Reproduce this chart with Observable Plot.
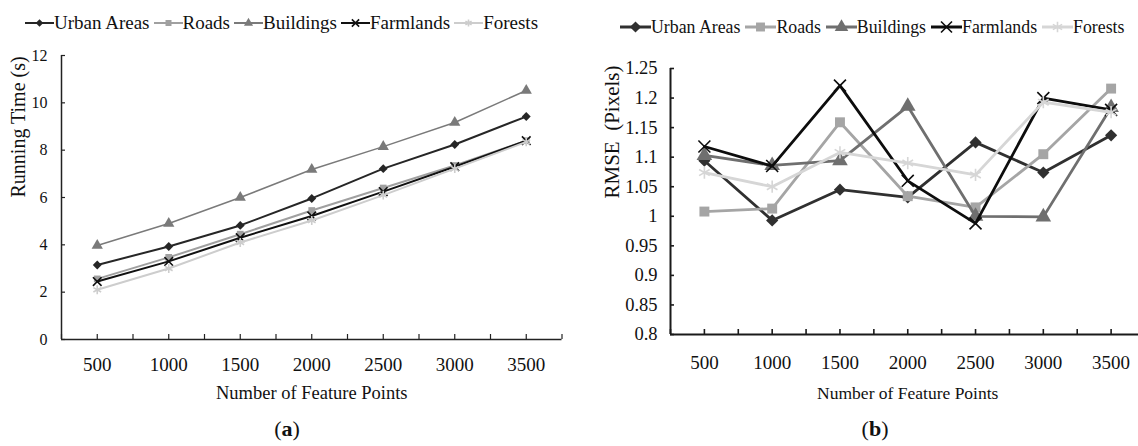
<!DOCTYPE html>
<html><head><meta charset="utf-8">
<script src="https://cdn.jsdelivr.net/npm/d3@7"></script>
<script src="https://cdn.jsdelivr.net/npm/@observablehq/plot@0.6"></script>
<style>
html,body{margin:0;padding:0;background:#fff;overflow:hidden}
#wrap{position:relative;width:1138px;height:446px;overflow:hidden;font-family:"Liberation Serif","Times New Roman",serif;color:#111}
.panel{position:absolute}
.legend{position:absolute;display:flex;align-items:center;white-space:nowrap;height:24px}
.legend .item{display:flex;align-items:center}
.legend svg{display:block}
.cap{position:absolute;font-size:22px;transform:translate(-50%,-50%);white-space:nowrap}
</style></head><body><div id="wrap"></div>
<script>
// ---------- data ----------
const categories = [500, 1000, 1500, 2000, 2500, 3000, 3500];
const seriesNames = ["Urban Areas", "Roads", "Buildings", "Farmlands", "Forests"];

// (a) Running time (s)
const timeUrban     = [3.15, 3.93, 4.82, 5.96, 7.22, 8.24, 9.42];
const timeRoads     = [2.56, 3.47, 4.45, 5.45, 6.40, 7.35, 8.40];
const timeBuildings = [3.97, 4.90, 6.00, 7.18, 8.15, 9.17, 10.52];
const timeFarmlands = [2.45, 3.30, 4.30, 5.22, 6.25, 7.30, 8.40];
const timeForests   = [2.10, 3.00, 4.10, 5.03, 6.10, 7.22, 8.35];

// (b) RMSE (pixels)
const rmseUrban     = [1.094, 0.993, 1.045, 1.032, 1.125, 1.074, 1.137];
const rmseRoads     = [1.008, 1.013, 1.159, 1.034, 1.015, 1.105, 1.216];
const rmseBuildings = [1.103, 1.086, 1.094, 1.186, 1.000, 0.999, 1.184];
const rmseFarmlands = [1.118, 1.085, 1.221, 1.060, 0.988, 1.200, 1.180];
const rmseForests   = [1.074, 1.050, 1.108, 1.090, 1.070, 1.193, 1.176];

// ticks
const xTickMarks = [250, 500, 750, 1000, 1250, 1500, 1750, 2000, 2250, 2500, 2750, 3000, 3250, 3500, 3750];
const timeTicks = [0, 2, 4, 6, 8, 10, 12];
const rmseTicks = [0.8, 0.85, 0.9, 0.95, 1, 1.05, 1.1, 1.15, 1.2, 1.25];
const rmseTickLabels = ["0.8", "0.85", "0.9", "0.95", "1", "1.05", "1.1", "1.15", "1.2", "1.25"];

// ---------- styles ----------
const symbols = ["diamond2", "square", "triangle", "times", "asterisk"];
const d3symbols = [d3.symbolDiamond2, d3.symbolSquare, d3.symbolTriangle, d3.symbolTimes, d3.symbolAsterisk];
const filled = [true, true, true, false, false];
const colorsA = ["#262626", "#a0a0a0", "#7a7a7a", "#111111", "#cdcdcd"];
const colorsB = ["#303030", "#a5a5a5", "#6f6f6f", "#0d0d0d", "#d6d6d6"];
const FONT = '"Liberation Serif","Times New Roman",serif';

function tidy(arrays) {
  const rows = [];
  arrays.forEach((vals, i) => vals.forEach((v, j) => rows.push({series: seriesNames[i], x: categories[j], y: v})));
  return rows;
}
const dataA = tidy([timeUrban, timeRoads, timeBuildings, timeFarmlands, timeForests]);
const dataB = tidy([rmseUrban, rmseRoads, rmseBuildings, rmseFarmlands, rmseForests]);

function seriesMarks(data, colors, lw, r) {
  const marks = [];
  seriesNames.forEach((name, i) => {
    const d = data.filter(e => e.series === name);
    marks.push(Plot.line(d, {x: "x", y: "y", stroke: colors[i], strokeWidth: lw[i]}));
    marks.push(Plot.dot(d, filled[i]
      ? {x: "x", y: "y", symbol: () => symbols[i], r: r[i], fill: colors[i], stroke: "none"}
      : {x: "x", y: "y", symbol: () => symbols[i], r: r[i], stroke: colors[i], strokeWidth: 1.6, fill: "none"}));
  });
  return marks;
}

const wrap = document.getElementById("wrap");

function legend(left, top, colors, o) {
  const div = document.createElement("div");
  div.className = "legend";
  div.style.left = left + "px";
  div.style.top = top + "px";
  div.style.fontSize = o.fontSize + "px";
  div.style.gap = o.gap + "px";
  seriesNames.forEach((n, i) => {
    const item = document.createElement("div");
    item.className = "item";
    const svg = d3.create("svg").attr("width", o.sw).attr("height", 20);
    svg.append("line").attr("x1", 0).attr("x2", o.sw).attr("y1", 10).attr("y2", 10)
      .attr("stroke", colors[i]).attr("stroke-width", o.lw);
    svg.append("path").attr("transform", `translate(${o.sw / 2},10)`)
      .attr("d", d3.symbol(d3symbols[i], o.size)())
      .attr("fill", filled[i] ? colors[i] : "none")
      .attr("stroke", filled[i] ? "none" : colors[i])
      .attr("stroke-width", 1.6);
    item.append(svg.node());
    const span = document.createElement("span");
    span.textContent = n;
    item.append(span);
    div.append(item);
  });
  wrap.append(div);
}

// ---------- chart (a) ----------
const chartA = Plot.plot({
  width: 569, height: 380,
  marginTop: 15, marginBottom: 81, marginLeft: 61, marginRight: 7.5,
  style: {fontFamily: FONT, fontSize: "16px", color: "#111", background: "transparent", overflow: "visible"},
  x: {domain: [250, 3750]},
  y: {domain: [0, 12]},
  marks: [
    Plot.ruleY([0], {stroke: "#222", strokeWidth: 1.5}),
    Plot.ruleX([250], {stroke: "#222", strokeWidth: 1.5}),
    Plot.axisX(xTickMarks, {tickSize: -5, tickFormat: () => "", label: null, stroke: "#222", strokeWidth: 1.2}),
    Plot.axisX(categories, {tickSize: 0, tickPadding: 18, fontSize: 19, label: null, tickFormat: d => String(d)}),
    Plot.axisY(timeTicks, {tickSize: -4, tickFormat: () => "", label: null, stroke: "#222", strokeWidth: 1.2}),
    Plot.axisY(timeTicks, {tickSize: 0, tickPadding: 14, fontSize: 16, label: null, tickFormat: d => String(d)}),
    Plot.text(["Number of Feature Points"], {frameAnchor: "bottom", lineAnchor: "middle", dy: 54, fontSize: 18.5, fill: "#111"}),
    Plot.text(["Running Time (s)"], {frameAnchor: "left", lineAnchor: "middle", rotate: -90, dx: -43, fontSize: 20, fill: "#111"}),
    ...seriesMarks(dataA, colorsA, [2, 2, 1.5, 2, 2], [4, 3.8, 4.2, 4, 4.2])
  ]
});
chartA.classList.add("panel");
chartA.style.left = "0px";
chartA.style.top = "40px";
wrap.append(chartA);

// ---------- chart (b) ----------
const chartB = Plot.plot({
  width: 580, height: 380,
  marginTop: 23, marginBottom: 91, marginLeft: 101, marginRight: 4.5,
  style: {fontFamily: FONT, fontSize: "18px", color: "#111", background: "transparent", overflow: "visible"},
  x: {domain: [250, 3750]},
  y: {domain: [0.8, 1.25]},
  marks: [
    Plot.ruleY([0.8], {stroke: "#1a1a1a", strokeWidth: 2}),
    Plot.ruleX([250], {stroke: "#1a1a1a", strokeWidth: 2}),
    Plot.axisX(xTickMarks, {tickSize: -5, tickFormat: () => "", label: null, stroke: "#1a1a1a", strokeWidth: 1.6}),
    Plot.axisX(categories, {tickSize: 0, tickPadding: 21, fontSize: 19, label: null, tickFormat: d => String(d)}),
    Plot.axisY(rmseTicks, {tickSize: -4, tickFormat: () => "", label: null, stroke: "#1a1a1a", strokeWidth: 1.6}),
    Plot.axisY(rmseTicks, {tickSize: 0, tickPadding: 13, fontSize: 18.5, label: null, tickFormat: (d, i) => rmseTickLabels[i]}),
    Plot.text(["Number of Feature Points"], {frameAnchor: "bottom", lineAnchor: "middle", dy: 59, fontSize: 17.5, fill: "#111"}),
    Plot.text(["RMSE  (Pixels)"], {frameAnchor: "left", lineAnchor: "middle", rotate: -90, dx: -58, dy: -3, fontSize: 21, fill: "#111"}),
    ...seriesMarks(dataB, colorsB, [2.8, 2.8, 2.8, 2.8, 2.8], [5.5, 5.6, 5.8, 5.5, 5.8])
  ]
});
chartB.classList.add("panel");
chartB.style.left = "569px";
chartB.style.top = "45px";
wrap.append(chartB);

// ---------- legends ----------
legend(25, 11, colorsA, {fontSize: 19, gap: 4, sw: 29, lw: 2, size: 36});
legend(620, 15, colorsB, {fontSize: 17.8, gap: 5, sw: 31, lw: 3, size: 80});

// ---------- captions ----------
const capA = document.createElement("div");
capA.className = "cap"; capA.style.left = "287px"; capA.style.top = "429px";
capA.innerHTML = "(<b>a</b>)";
wrap.append(capA);
const capB = document.createElement("div");
capB.className = "cap"; capB.style.left = "875px"; capB.style.top = "429px";
capB.innerHTML = "(<b>b</b>)";
wrap.append(capB);
</script>
</body></html>
